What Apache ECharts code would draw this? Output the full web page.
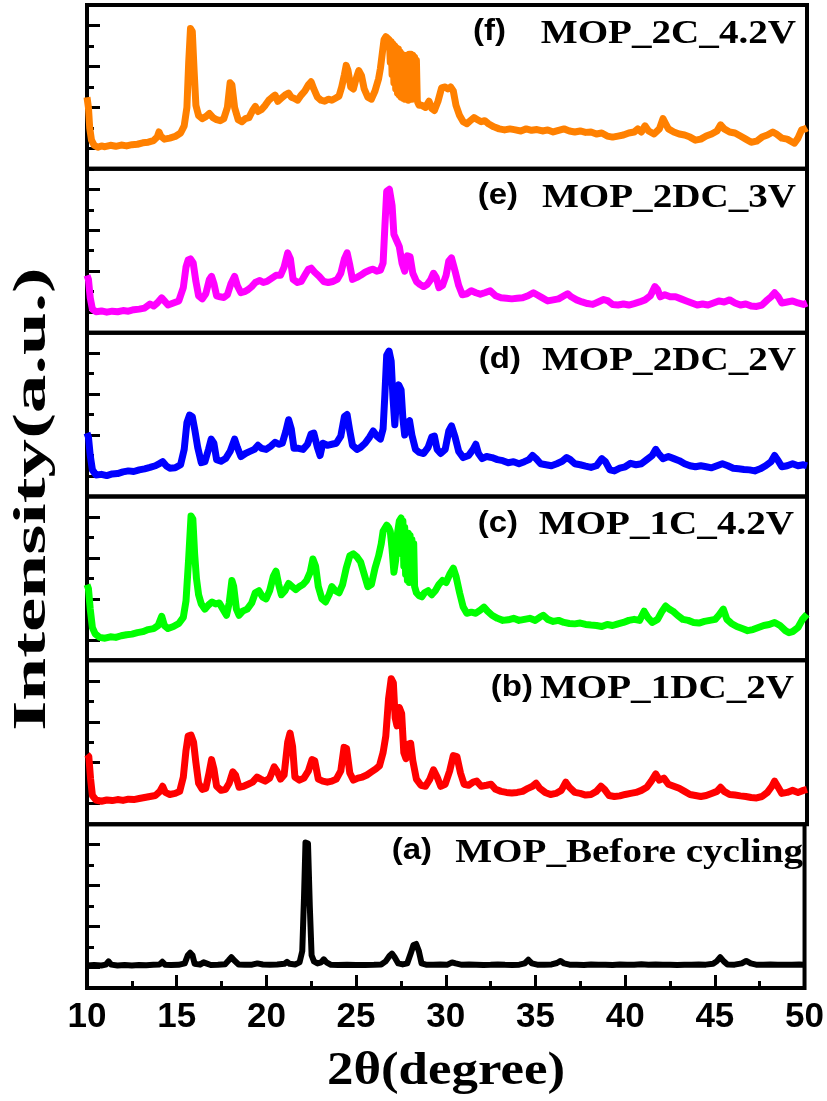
<!DOCTYPE html>
<html>
<head>
<meta charset="utf-8">
<script src="https://cdn.jsdelivr.net/npm/echarts@6/dist/echarts.min.js"></script>
<style>
  html, body { margin: 0; padding: 0; background: #fff; }
  #chart { width: 827px; height: 1101px; }
</style>
</head>
<body>
<div id="chart"></div>
<script>
// XRD 叠图, 6 个面板 (f 在最上, a 在最下)

var panelTags = ["(f)", "(e)", "(d)", "(c)", "(b)", "(a)"];
var panelTitles = ["MOP_2C_4.2V", "MOP_2DC_3V", "MOP_2DC_2V", "MOP_1C_4.2V", "MOP_1DC_2V", "MOP_Before cycling"];
var panelColors = ["#ff8000", "#ff00ff", "#0000ff", "#00ff00", "#ff0000", "#000000"];
var xTicks = [10, 15, 20, 25, 30, 35, 40, 45, 50];

var dataF = [[10.0, 3.5], [10.08, 3.0], [10.15, 2.0], [10.25, 1.4], [10.4, 1.15], [10.6, 1.05], [10.8, 1.12], [11.0, 1.08], [11.3, 1.15], [11.6, 1.1], [11.9, 1.16], [12.2, 1.12], [12.5, 1.18], [12.8, 1.2], [13.1, 1.27], [13.4, 1.3], [13.7, 1.38], [13.9, 1.55], [14.0, 1.8], [14.1, 1.6], [14.3, 1.45], [14.6, 1.5], [14.9, 1.58], [15.2, 1.75], [15.4, 2.1], [15.55, 3.0], [15.65, 5.2], [15.75, 6.85], [15.85, 6.7], [15.95, 4.8], [16.05, 3.1], [16.2, 2.6], [16.4, 2.45], [16.6, 2.55], [16.8, 2.7], [17.0, 2.5], [17.2, 2.4], [17.4, 2.35], [17.6, 2.45], [17.8, 3.0], [17.95, 4.2], [18.05, 4.1], [18.2, 3.0], [18.4, 2.4], [18.6, 2.3], [18.8, 2.45], [19.0, 2.5], [19.2, 2.85], [19.35, 3.05], [19.5, 2.8], [19.7, 2.9], [19.9, 3.1], [20.1, 3.35], [20.3, 3.5], [20.45, 3.6], [20.6, 3.3], [20.8, 3.45], [21.0, 3.6], [21.2, 3.7], [21.35, 3.5], [21.5, 3.45], [21.7, 3.35], [21.9, 3.6], [22.1, 3.8], [22.3, 4.1], [22.45, 4.25], [22.6, 3.9], [22.8, 3.5], [23.0, 3.35], [23.2, 3.3], [23.4, 3.4], [23.6, 3.35], [23.8, 3.45], [24.0, 3.55], [24.15, 4.0], [24.3, 4.6], [24.4, 5.05], [24.5, 4.8], [24.65, 4.0], [24.8, 3.9], [24.95, 4.4], [25.1, 4.8], [25.25, 4.55], [25.4, 3.9], [25.6, 3.5], [25.8, 3.4], [26.0, 3.8], [26.2, 4.4], [26.3, 4.9], [26.4, 5.6], [26.5, 6.3], [26.6, 6.45], [26.7, 6.4], [26.8, 6.3], [26.85, 5.2], [26.9, 6.2], [26.95, 4.6], [27.0, 6.1], [27.05, 4.2], [27.1, 6.0], [27.15, 3.9], [27.2, 5.9], [27.25, 3.7], [27.3, 5.85], [27.35, 3.6], [27.4, 5.7], [27.45, 3.5], [27.5, 5.6], [27.55, 3.45], [27.6, 5.55], [27.65, 3.4], [27.7, 5.5], [27.75, 3.4], [27.8, 5.55], [27.85, 3.35], [27.9, 5.6], [27.95, 3.4], [28.0, 5.6], [28.05, 3.4], [28.1, 5.55], [28.15, 3.5], [28.2, 5.45], [28.25, 3.4], [28.3, 5.3], [28.35, 3.3], [28.45, 3.1], [28.6, 3.1], [28.8, 3.0], [29.0, 3.3], [29.15, 2.95], [29.3, 2.85], [29.5, 3.3], [29.7, 3.95], [29.9, 4.0], [30.05, 3.9], [30.2, 4.0], [30.35, 3.8], [30.5, 3.1], [30.7, 2.6], [30.9, 2.3], [31.1, 2.2], [31.3, 2.35], [31.5, 2.5], [31.7, 2.4], [31.9, 2.3], [32.1, 2.35], [32.3, 2.2], [32.6, 2.05], [32.9, 1.95], [33.2, 1.9], [33.5, 1.95], [33.8, 1.9], [34.1, 1.85], [34.4, 1.95], [34.7, 1.88], [35.0, 1.92], [35.3, 1.85], [35.6, 1.9], [35.9, 1.8], [36.2, 1.88], [36.5, 1.95], [36.8, 1.85], [37.1, 1.8], [37.4, 1.85], [37.7, 1.78], [38.0, 1.8], [38.3, 1.7], [38.6, 1.75], [38.9, 1.6], [39.2, 1.55], [39.5, 1.6], [39.8, 1.65], [40.1, 1.75], [40.4, 1.8], [40.6, 1.95], [40.8, 1.8], [41.0, 2.1], [41.2, 1.85], [41.5, 1.7], [41.8, 1.95], [42.0, 2.45], [42.15, 2.2], [42.3, 1.95], [42.6, 1.8], [42.9, 1.7], [43.2, 1.65], [43.5, 1.55], [43.8, 1.4], [44.1, 1.45], [44.4, 1.6], [44.7, 1.7], [45.0, 1.85], [45.2, 2.15], [45.4, 1.95], [45.7, 1.8], [46.0, 1.75], [46.3, 1.6], [46.6, 1.45], [46.9, 1.3], [47.2, 1.35], [47.5, 1.55], [47.8, 1.65], [48.1, 1.8], [48.3, 1.7], [48.6, 1.5], [48.9, 1.45], [49.1, 1.35], [49.3, 1.25], [49.5, 1.5], [49.7, 1.9], [49.9, 1.95], [50.0, 2.0]];

var dataE = [[10.0, 2.8], [10.08, 2.6], [10.18, 1.7], [10.3, 1.15], [10.5, 1.02], [10.8, 1.06], [11.1, 1.0], [11.4, 1.05], [11.7, 1.02], [12.0, 1.08], [12.3, 1.05], [12.6, 1.12], [12.9, 1.15], [13.2, 1.2], [13.5, 1.4], [13.7, 1.3], [13.9, 1.45], [14.15, 1.7], [14.3, 1.55], [14.5, 1.35], [14.8, 1.45], [15.1, 1.55], [15.35, 2.2], [15.5, 3.2], [15.62, 3.55], [15.75, 3.6], [15.9, 3.4], [16.05, 2.5], [16.2, 1.8], [16.4, 1.65], [16.6, 1.9], [16.8, 2.6], [16.92, 2.75], [17.05, 2.4], [17.2, 1.8], [17.4, 1.75], [17.6, 1.72], [17.8, 1.85], [18.0, 2.4], [18.2, 2.75], [18.35, 2.3], [18.55, 1.95], [18.75, 2.0], [18.95, 2.1], [19.15, 2.25], [19.35, 2.45], [19.6, 2.55], [19.8, 2.45], [20.0, 2.5], [20.25, 2.65], [20.5, 2.8], [20.75, 2.8], [20.95, 3.2], [21.15, 3.9], [21.3, 3.6], [21.45, 2.6], [21.7, 2.45], [21.9, 2.5], [22.1, 2.8], [22.3, 3.1], [22.45, 3.15], [22.65, 2.95], [22.9, 2.75], [23.15, 2.5], [23.4, 2.45], [23.65, 2.5], [23.9, 2.6], [24.1, 2.9], [24.3, 3.6], [24.45, 3.9], [24.6, 3.3], [24.75, 2.6], [25.0, 2.7], [25.2, 2.8], [25.45, 2.95], [25.7, 3.05], [25.9, 3.1], [26.1, 3.0], [26.3, 3.05], [26.45, 3.4], [26.55, 5.2], [26.65, 6.9], [26.8, 7.0], [26.95, 6.2], [27.05, 4.8], [27.2, 4.5], [27.35, 4.2], [27.5, 3.4], [27.65, 3.0], [27.8, 3.75], [27.95, 3.7], [28.1, 2.9], [28.3, 2.5], [28.5, 2.35], [28.7, 2.25], [28.9, 2.35], [29.1, 2.6], [29.25, 2.9], [29.4, 2.7], [29.55, 2.2], [29.75, 2.3], [29.95, 2.8], [30.1, 3.5], [30.25, 3.65], [30.45, 3.0], [30.65, 2.3], [30.85, 1.85], [31.1, 1.9], [31.35, 2.05], [31.6, 1.95], [31.85, 1.88], [32.1, 1.95], [32.4, 2.05], [32.7, 1.8], [33.0, 1.7], [33.3, 1.68], [33.6, 1.65], [33.9, 1.68], [34.2, 1.7], [34.5, 1.8], [34.8, 1.95], [35.0, 1.85], [35.3, 1.7], [35.6, 1.55], [35.9, 1.6], [36.2, 1.65], [36.5, 1.8], [36.7, 1.9], [36.9, 1.75], [37.2, 1.6], [37.5, 1.5], [37.8, 1.42], [38.1, 1.38], [38.4, 1.5], [38.7, 1.62], [38.95, 1.55], [39.2, 1.38], [39.5, 1.35], [39.8, 1.4], [40.1, 1.35], [40.4, 1.42], [40.7, 1.5], [41.0, 1.6], [41.3, 1.8], [41.55, 2.25], [41.7, 2.1], [41.85, 1.75], [42.1, 1.85], [42.4, 1.75], [42.7, 1.75], [43.0, 1.65], [43.3, 1.55], [43.6, 1.45], [43.9, 1.35], [44.2, 1.4], [44.5, 1.35], [44.8, 1.45], [45.1, 1.55], [45.4, 1.5], [45.7, 1.6], [46.0, 1.45], [46.3, 1.35], [46.6, 1.4], [46.9, 1.3], [47.2, 1.28], [47.5, 1.35], [47.8, 1.6], [48.0, 1.75], [48.2, 1.95], [48.4, 1.75], [48.6, 1.45], [48.9, 1.5], [49.2, 1.55], [49.5, 1.45], [49.8, 1.38], [50.0, 1.45]];

var dataD = [[10.0, 3.1], [10.08, 2.9], [10.18, 2.0], [10.3, 1.3], [10.5, 1.05], [10.8, 1.08], [11.1, 1.02], [11.4, 1.1], [11.7, 1.12], [12.0, 1.2], [12.3, 1.25], [12.6, 1.22], [12.9, 1.3], [13.2, 1.35], [13.5, 1.42], [13.8, 1.5], [14.05, 1.62], [14.2, 1.7], [14.4, 1.5], [14.6, 1.38], [14.9, 1.4], [15.2, 1.55], [15.4, 2.3], [15.55, 3.6], [15.7, 3.98], [15.85, 3.9], [16.0, 3.2], [16.15, 2.4], [16.35, 1.65], [16.55, 1.7], [16.75, 2.3], [16.9, 2.8], [17.05, 2.6], [17.2, 1.8], [17.45, 1.72], [17.7, 1.85], [17.95, 2.2], [18.2, 2.8], [18.35, 2.4], [18.55, 1.95], [18.8, 2.1], [19.05, 2.2], [19.3, 2.3], [19.5, 2.5], [19.7, 2.35], [19.95, 2.3], [20.2, 2.45], [20.45, 2.65], [20.65, 2.55], [20.85, 2.6], [21.05, 3.2], [21.2, 3.75], [21.35, 3.3], [21.5, 2.35], [21.75, 2.35], [22.0, 2.3], [22.25, 2.55], [22.45, 3.05], [22.6, 3.1], [22.8, 2.4], [22.95, 2.0], [23.1, 2.6], [23.35, 2.5], [23.6, 2.55], [23.85, 2.6], [24.1, 2.95], [24.3, 3.9], [24.45, 4.0], [24.6, 3.2], [24.75, 2.5], [25.0, 2.3], [25.2, 2.4], [25.45, 2.6], [25.7, 2.9], [25.9, 3.2], [26.1, 2.95], [26.3, 2.8], [26.45, 3.3], [26.55, 5.0], [26.65, 6.9], [26.78, 7.1], [26.9, 6.6], [27.0, 4.8], [27.1, 3.5], [27.2, 4.8], [27.32, 5.45], [27.45, 5.2], [27.55, 3.8], [27.65, 3.0], [27.8, 3.6], [27.92, 3.7], [28.05, 3.0], [28.25, 2.3], [28.45, 2.15], [28.7, 2.1], [28.95, 2.4], [29.15, 2.9], [29.3, 2.95], [29.45, 2.3], [29.65, 2.1], [29.9, 2.3], [30.1, 3.2], [30.25, 3.45], [30.45, 2.9], [30.65, 2.2], [30.9, 1.9], [31.2, 2.0], [31.45, 2.3], [31.6, 2.55], [31.75, 2.1], [31.95, 1.85], [32.2, 1.95], [32.5, 1.9], [32.8, 1.8], [33.1, 1.75], [33.4, 1.65], [33.7, 1.7], [34.0, 1.6], [34.3, 1.7], [34.55, 1.8], [34.75, 2.0], [34.95, 1.85], [35.2, 1.6], [35.5, 1.55], [35.8, 1.5], [36.1, 1.6], [36.4, 1.72], [36.65, 1.9], [36.85, 1.8], [37.1, 1.6], [37.4, 1.55], [37.7, 1.48], [38.0, 1.42], [38.3, 1.5], [38.6, 1.85], [38.8, 1.7], [39.05, 1.3], [39.3, 1.25], [39.6, 1.38], [39.9, 1.45], [40.2, 1.62], [40.5, 1.55], [40.8, 1.6], [41.1, 1.8], [41.4, 2.0], [41.6, 2.3], [41.75, 2.1], [42.0, 1.85], [42.3, 1.95], [42.6, 1.85], [42.9, 1.75], [43.2, 1.6], [43.5, 1.5], [43.8, 1.45], [44.1, 1.5], [44.4, 1.45], [44.7, 1.4], [45.0, 1.5], [45.3, 1.6], [45.6, 1.5], [45.9, 1.38], [46.2, 1.35], [46.5, 1.32], [46.8, 1.3], [47.1, 1.25], [47.4, 1.35], [47.7, 1.5], [48.0, 1.7], [48.2, 2.0], [48.4, 1.75], [48.6, 1.45], [48.9, 1.5], [49.2, 1.6], [49.5, 1.5], [49.8, 1.55], [50.0, 1.5]];

var dataC = [[10.0, 3.7], [10.08, 3.5], [10.18, 2.5], [10.3, 1.6], [10.45, 1.3], [10.7, 1.12], [11.0, 1.08], [11.3, 1.15], [11.6, 1.12], [11.9, 1.2], [12.2, 1.25], [12.5, 1.28], [12.8, 1.35], [13.1, 1.4], [13.4, 1.5], [13.7, 1.55], [13.95, 1.7], [14.15, 2.15], [14.3, 1.7], [14.5, 1.55], [14.8, 1.65], [15.1, 1.8], [15.35, 2.1], [15.5, 2.9], [15.65, 5.0], [15.78, 7.05], [15.88, 6.9], [15.98, 5.2], [16.08, 4.0], [16.2, 3.2], [16.35, 2.75], [16.55, 2.5], [16.75, 2.7], [16.95, 2.85], [17.15, 2.75], [17.35, 2.8], [17.55, 2.5], [17.75, 2.2], [17.9, 2.8], [18.05, 3.9], [18.15, 3.6], [18.3, 2.5], [18.45, 2.2], [18.65, 2.4], [18.9, 2.5], [19.15, 2.8], [19.35, 3.3], [19.55, 3.4], [19.75, 3.1], [19.95, 3.0], [20.15, 3.4], [20.35, 4.1], [20.5, 4.35], [20.65, 3.7], [20.8, 3.2], [21.0, 3.4], [21.2, 3.75], [21.4, 3.6], [21.6, 3.45], [21.8, 3.6], [22.0, 3.7], [22.2, 3.9], [22.4, 4.3], [22.55, 4.95], [22.7, 4.6], [22.85, 3.6], [23.05, 3.0], [23.25, 2.85], [23.45, 3.2], [23.6, 3.6], [23.8, 3.4], [24.0, 3.3], [24.2, 3.7], [24.4, 4.5], [24.6, 5.1], [24.8, 5.2], [25.0, 5.05], [25.2, 4.8], [25.4, 4.2], [25.6, 3.6], [25.8, 3.7], [26.0, 4.5], [26.2, 5.1], [26.35, 5.7], [26.45, 6.3], [26.55, 6.45], [26.65, 6.6], [26.75, 6.5], [26.85, 6.3], [26.95, 5.4], [27.05, 4.3], [27.15, 4.9], [27.25, 6.2], [27.35, 6.8], [27.45, 6.95], [27.5, 5.2], [27.55, 6.8], [27.6, 4.6], [27.65, 6.5], [27.7, 4.2], [27.75, 6.1], [27.8, 3.9], [27.85, 6.2], [27.9, 3.8], [27.95, 6.1], [28.0, 3.9], [28.05, 5.9], [28.1, 3.8], [28.15, 5.7], [28.2, 3.6], [28.3, 3.3], [28.45, 3.15], [28.6, 3.1], [28.75, 3.3], [28.95, 3.4], [29.15, 3.2], [29.35, 3.4], [29.55, 3.7], [29.75, 3.9], [29.95, 3.8], [30.15, 4.2], [30.35, 4.5], [30.5, 4.1], [30.7, 3.3], [30.9, 2.6], [31.1, 2.3], [31.35, 2.35], [31.6, 2.3], [31.85, 2.45], [32.05, 2.6], [32.25, 2.4], [32.5, 2.2], [32.8, 2.05], [33.1, 1.95], [33.4, 1.98], [33.7, 2.05], [34.0, 1.95], [34.3, 2.0], [34.6, 2.05], [34.9, 1.95], [35.15, 2.1], [35.35, 2.2], [35.6, 2.0], [35.9, 1.9], [36.2, 1.95], [36.5, 1.85], [36.8, 1.8], [37.1, 1.78], [37.4, 1.82], [37.7, 1.75], [38.0, 1.72], [38.3, 1.7], [38.6, 1.65], [38.9, 1.75], [39.2, 1.7], [39.5, 1.78], [39.8, 1.85], [40.1, 1.95], [40.4, 2.0], [40.7, 1.95], [40.95, 2.4], [41.15, 2.1], [41.4, 1.85], [41.7, 2.0], [41.95, 2.4], [42.15, 2.65], [42.35, 2.5], [42.55, 2.4], [42.8, 2.2], [43.1, 2.0], [43.4, 1.95], [43.7, 1.85], [44.0, 1.82], [44.3, 1.9], [44.6, 1.95], [44.9, 2.0], [45.1, 2.2], [45.35, 2.5], [45.55, 2.0], [45.8, 1.8], [46.1, 1.65], [46.4, 1.55], [46.7, 1.45], [47.0, 1.5], [47.3, 1.6], [47.6, 1.7], [47.9, 1.75], [48.2, 1.85], [48.5, 1.7], [48.8, 1.45], [49.0, 1.35], [49.2, 1.4], [49.5, 1.6], [49.75, 2.0], [50.0, 2.25]];

var dataB = [[10.0, 3.4], [10.1, 3.3], [10.2, 2.2], [10.3, 1.4], [10.5, 1.18], [10.8, 1.12], [11.1, 1.18], [11.4, 1.15], [11.7, 1.2], [12.0, 1.16], [12.3, 1.22], [12.6, 1.2], [12.9, 1.25], [13.2, 1.3], [13.5, 1.35], [13.8, 1.4], [14.05, 1.6], [14.2, 1.85], [14.35, 1.55], [14.6, 1.45], [14.9, 1.5], [15.15, 1.6], [15.35, 2.3], [15.5, 3.6], [15.62, 4.3], [15.78, 4.35], [15.92, 4.0], [16.05, 3.0], [16.2, 2.0], [16.4, 1.7], [16.6, 1.75], [16.78, 2.5], [16.92, 3.15], [17.05, 2.7], [17.2, 1.85], [17.45, 1.65], [17.7, 1.7], [17.9, 2.0], [18.1, 2.55], [18.25, 2.4], [18.45, 1.8], [18.7, 1.85], [18.95, 1.95], [19.2, 2.05], [19.45, 2.3], [19.65, 2.2], [19.9, 2.1], [20.15, 2.25], [20.4, 2.8], [20.55, 2.6], [20.75, 2.2], [20.95, 2.4], [21.15, 4.0], [21.28, 4.45], [21.42, 3.8], [21.55, 2.3], [21.8, 2.15], [22.05, 2.25], [22.3, 2.6], [22.5, 3.15], [22.65, 3.1], [22.85, 2.2], [23.1, 2.1], [23.35, 2.05], [23.6, 2.1], [23.85, 2.2], [24.1, 2.6], [24.28, 3.75], [24.42, 3.7], [24.6, 2.5], [24.8, 2.15], [25.05, 2.25], [25.3, 2.3], [25.55, 2.4], [25.8, 2.55], [26.05, 2.7], [26.25, 2.85], [26.45, 3.5], [26.6, 4.3], [26.75, 6.1], [26.9, 7.1], [27.02, 6.9], [27.12, 5.2], [27.22, 4.8], [27.35, 5.7], [27.48, 5.4], [27.6, 3.5], [27.72, 3.2], [27.85, 3.9], [27.98, 3.95], [28.1, 3.1], [28.3, 2.2], [28.55, 1.9], [28.8, 1.85], [29.05, 2.2], [29.25, 2.65], [29.45, 2.3], [29.65, 1.85], [29.9, 1.95], [30.15, 2.6], [30.35, 3.35], [30.55, 3.3], [30.75, 2.5], [30.95, 1.95], [31.2, 1.9], [31.45, 2.05], [31.65, 2.1], [31.9, 1.85], [32.2, 1.9], [32.45, 1.95], [32.7, 1.7], [33.0, 1.6], [33.3, 1.55], [33.6, 1.52], [33.9, 1.55], [34.2, 1.6], [34.5, 1.75], [34.75, 1.85], [34.95, 2.0], [35.15, 1.75], [35.45, 1.55], [35.75, 1.45], [36.05, 1.5], [36.35, 1.65], [36.6, 2.05], [36.8, 1.8], [37.1, 1.55], [37.4, 1.5], [37.7, 1.42], [38.0, 1.45], [38.3, 1.6], [38.55, 1.85], [38.75, 1.7], [39.0, 1.4], [39.3, 1.35], [39.6, 1.38], [39.9, 1.45], [40.2, 1.5], [40.5, 1.55], [40.8, 1.65], [41.1, 1.8], [41.35, 2.1], [41.6, 2.45], [41.8, 2.15], [42.05, 2.25], [42.3, 1.95], [42.6, 1.85], [42.9, 1.75], [43.2, 1.6], [43.5, 1.45], [43.8, 1.4], [44.1, 1.35], [44.4, 1.4], [44.7, 1.5], [45.0, 1.6], [45.2, 1.8], [45.4, 1.6], [45.7, 1.45], [46.0, 1.42], [46.3, 1.38], [46.6, 1.35], [46.9, 1.3], [47.2, 1.28], [47.5, 1.35], [47.8, 1.55], [48.05, 1.85], [48.2, 2.1], [48.4, 1.8], [48.6, 1.5], [48.9, 1.55], [49.2, 1.65], [49.5, 1.55], [49.8, 1.65], [50.0, 1.7]];

var dataA = [[10.0, 1.1], [10.4, 1.12], [10.8, 1.1], [11.05, 1.14], [11.2, 1.3], [11.35, 1.14], [11.7, 1.1], [12.1, 1.12], [12.5, 1.1], [12.9, 1.12], [13.3, 1.11], [13.7, 1.13], [14.05, 1.15], [14.2, 1.28], [14.35, 1.14], [14.7, 1.12], [15.1, 1.13], [15.45, 1.2], [15.62, 1.6], [15.75, 1.72], [15.88, 1.6], [16.0, 1.18], [16.3, 1.14], [16.5, 1.25], [16.65, 1.2], [16.9, 1.12], [17.3, 1.13], [17.7, 1.16], [17.9, 1.35], [18.05, 1.5], [18.2, 1.35], [18.45, 1.15], [18.8, 1.13], [19.2, 1.14], [19.5, 1.2], [19.8, 1.15], [20.2, 1.14], [20.6, 1.15], [21.0, 1.18], [21.15, 1.28], [21.3, 1.18], [21.6, 1.15], [21.85, 1.25], [22.0, 1.8], [22.1, 4.5], [22.18, 7.1], [22.32, 7.05], [22.42, 4.0], [22.52, 1.6], [22.65, 1.3], [22.85, 1.2], [23.05, 1.25], [23.2, 1.4], [23.35, 1.25], [23.6, 1.13], [24.0, 1.12], [24.5, 1.13], [25.0, 1.12], [25.5, 1.12], [26.0, 1.13], [26.4, 1.15], [26.65, 1.3], [26.85, 1.55], [27.0, 1.68], [27.15, 1.5], [27.35, 1.2], [27.6, 1.15], [27.85, 1.2], [28.05, 1.7], [28.2, 2.1], [28.35, 2.15], [28.5, 1.8], [28.65, 1.2], [28.9, 1.14], [29.3, 1.13], [29.7, 1.15], [30.1, 1.14], [30.35, 1.25], [30.55, 1.2], [30.9, 1.13], [31.3, 1.15], [31.7, 1.14], [32.1, 1.12], [32.5, 1.13], [32.9, 1.15], [33.3, 1.13], [33.7, 1.12], [34.1, 1.14], [34.4, 1.2], [34.6, 1.38], [34.8, 1.2], [35.1, 1.14], [35.5, 1.13], [35.9, 1.15], [36.2, 1.22], [36.4, 1.32], [36.6, 1.2], [36.9, 1.14], [37.3, 1.13], [37.7, 1.12], [38.1, 1.15], [38.5, 1.13], [38.9, 1.14], [39.3, 1.12], [39.7, 1.15], [40.1, 1.13], [40.5, 1.14], [40.9, 1.16], [41.3, 1.13], [41.7, 1.15], [42.1, 1.13], [42.5, 1.14], [42.9, 1.12], [43.3, 1.14], [43.7, 1.13], [44.1, 1.15], [44.5, 1.14], [44.9, 1.18], [45.1, 1.3], [45.3, 1.5], [45.5, 1.3], [45.7, 1.15], [46.1, 1.14], [46.5, 1.2], [46.75, 1.32], [47.0, 1.2], [47.3, 1.14], [47.7, 1.13], [48.1, 1.15], [48.5, 1.13], [48.9, 1.14], [49.3, 1.13], [49.7, 1.15], [50.0, 1.14]];

var panelData = [dataF, dataE, dataD, dataC, dataB, dataA];

// 版面
var plotLeft = 87, plotWidth = 720, plotTop = 5, panelH = 163.83;
var titleRight = [796, 796, 796, 794, 794, 803];
var tagRight = [506, 518, 521, 518, 533, 432];
var lineWidths = [7, 7, 7, 7, 7, 6];

var chart = echarts.init(document.getElementById("chart"));

var grids = [], xAxes = [], yAxes = [], series = [], graphics = [];

for (var i = 0; i < 6; i++) {
  var isBottom = i === 5;
  var pTop = plotTop + i * panelH;
  grids.push({
    left: plotLeft, top: pTop, width: plotWidth, height: panelH,
    show: true, borderColor: "#000", borderWidth: 4, backgroundColor: "transparent"
  });
  xAxes.push({
    type: "value", gridIndex: i, min: 10, max: 50, interval: 5,
    axisLine: { show: false },
    axisTick: { show: isBottom, inside: true, length: 13, lineStyle: { color: "#000", width: 3 } },
    minorTick: { show: isBottom, splitNumber: 2, length: 7, lineStyle: { color: "#000", width: 3 } },
    splitLine: { show: false },
    axisLabel: {
      show: isBottom, margin: 12, color: "#000", fontSize: 35, fontWeight: "bold",
      fontFamily: "'Liberation Sans', Arial, sans-serif"
    }
  });
  yAxes.push({
    type: "value", gridIndex: i, min: 0, max: 8, interval: 2,
    axisLine: { show: false },
    axisTick: { show: true, inside: true, length: 7, lineStyle: { color: "#000", width: 3 } },
    minorTick: { show: true, splitNumber: 2, length: 13, lineStyle: { color: "#000", width: 3 } },
    splitLine: { show: false },
    axisLabel: { show: false }
  });
  series.push({
    type: "line", xAxisIndex: i, yAxisIndex: i,
    data: panelData[i], showSymbol: false, symbol: "none",
    lineStyle: { color: panelColors[i], width: lineWidths[i], join: "round" },
    itemStyle: { color: panelColors[i] },
    z: 3
  });
  graphics.push({
    type: "text", x: titleRight[i], y: pTop + 29, scaleX: 1.15,
    style: {
      text: panelTitles[i], font: "bold 34px 'Liberation Serif', 'Times New Roman', serif",
      fill: "#000", align: "right", textAlign: "right", verticalAlign: "middle", textVerticalAlign: "middle"
    }
  });
  graphics.push({
    type: "text", x: tagRight[i], y: pTop + 27, scaleX: 1.1,
    style: {
      text: panelTags[i], font: "bold 30px 'Liberation Sans', Arial, sans-serif",
      fill: "#000", align: "right", textAlign: "right", verticalAlign: "middle", textVerticalAlign: "middle"
    }
  });
}

graphics.push({
  type: "text", x: 446, y: 1072, scaleX: 1.15,
  style: {
    text: "2θ(degree)", font: "bold 46px 'Liberation Serif', 'Times New Roman', serif",
    fill: "#000", align: "center", textAlign: "center", verticalAlign: "middle", textVerticalAlign: "middle"
  }
});
graphics.push({
  type: "text", x: 33, y: 499, rotation: Math.PI / 2, scaleX: 1.68,
  style: {
    text: "Intensity(a.u.)", font: "bold 46px 'Liberation Serif', 'Times New Roman', serif",
    fill: "#000", align: "center", textAlign: "center", verticalAlign: "middle", textVerticalAlign: "middle"
  }
});

var option = {
  animation: false,
  backgroundColor: "#fff",
  grid: grids,
  xAxis: xAxes,
  yAxis: yAxes,
  series: series,
  graphic: graphics
};

chart.setOption(option);
</script>
</body>
</html>
